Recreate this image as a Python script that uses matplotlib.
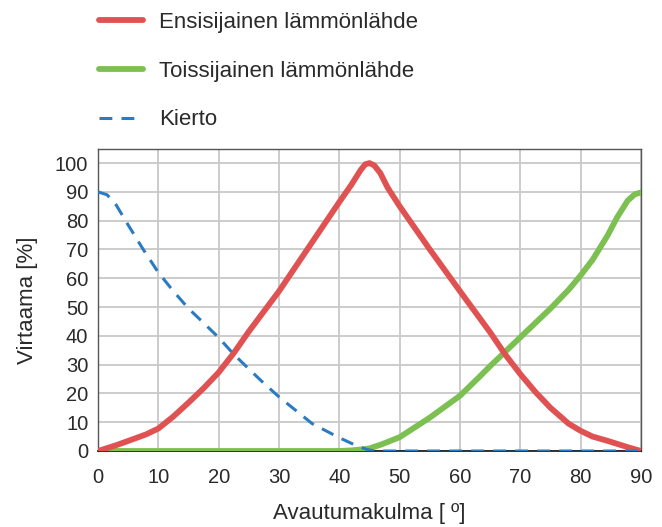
import matplotlib
matplotlib.use("Agg")
import matplotlib.pyplot as plt

# Data
ens_x = [0, 3, 5, 8, 10, 12.5, 15, 17.5, 20, 22.5, 25, 30, 35, 40, 42, 43.5, 44.3, 45, 45.8, 46.8, 48, 50, 55, 60, 65, 67.5, 70, 72.5, 75, 78, 80, 82, 84.5, 88, 90]
ens_y = [0, 2, 3.5, 5.8, 7.8, 12, 16.8, 21.8, 27.3, 34, 41.5, 55.5, 71, 86.5, 92.5, 97.5, 99.6, 100, 99.2, 96.5, 91.5, 85, 70, 55.5, 41.2, 33.5, 26.7, 20.5, 15, 9.5, 7, 5, 3.5, 1.2, 0]

toi_x = [0, 40, 42, 44, 45, 47, 50, 55, 60, 63, 65, 70, 75, 78, 80, 82, 84.5, 86, 87.8, 89, 90]
toi_y = [0, 0, 0.2, 0.6, 0.9, 2.3, 4.8, 11.6, 19.2, 25.3, 29.5, 39.5, 49.5, 56, 61, 66.5, 75, 81, 87, 89.2, 89.8]

kie_x = [0, 1.5, 3, 5, 7.5, 10, 12.5, 15, 17.5, 20, 22.5, 25, 27.5, 30, 35.5, 40, 43, 44.5, 45.8, 90]
kie_y = [90, 89, 85.5, 78.5, 70, 62, 55.5, 49.5, 44.5, 39.4, 33.6, 28.5, 23.5, 18.8, 9.5, 4.6, 1.7, 0.6, 0, 0]

labels = ["Ensisijainen lämmönlähde", "Toissijainen lämmönlähde", "Kierto"]
x_ticks = list(range(0, 91, 10))
y_ticks = list(range(0, 101, 10))

plt.rcParams['font.family'] = ['Liberation Sans', 'DejaVu Sans']

fig = plt.figure(figsize=(6.62, 5.27), dpi=100)
ax = fig.add_axes([98/662, 1-451/527, (641-98)/662, (451-149)/527])

red = '#e05252'
green = '#7cc052'
blue = '#2a7bc1'
txt = '#2a2a2a'

l1, = ax.plot(ens_x, ens_y, color=red, lw=4.2, solid_capstyle='round', solid_joinstyle='round', zorder=4, label=labels[0])
l2, = ax.plot(toi_x, toi_y, color=green, lw=4.2, solid_capstyle='round', solid_joinstyle='round', zorder=3, label=labels[1])
l3, = ax.plot(kie_x, kie_y, color=blue, lw=2.2, linestyle=(0, (4.2, 3.0)), zorder=5, label=labels[2])

ax.set_xlim(0, 90)
ax.set_ylim(0, 104.9)
ax.set_xticks(x_ticks)
ax.set_yticks(y_ticks)
ax.grid(True, color='#c8c8c8', lw=1.3)
ax.set_axisbelow(True)
ax.tick_params(length=0, labelsize=14.5, colors=txt)
ax.tick_params(axis='x', pad=12)
ax.tick_params(axis='y', pad=7)
for s in ['top', 'right', 'left']:
    ax.spines[s].set_color('#555555')
    ax.spines[s].set_linewidth(1.0)
ax.spines['bottom'].set_color('#111111')
ax.spines['bottom'].set_linewidth(1.2)

ax.set_xlabel("Avautumakulma [ º]", fontsize=16, color=txt, labelpad=12)
ax.set_ylabel("Virtaama [%]", fontsize=16, color=txt, labelpad=12)

leg = fig.legend(handles=[l1, l2, l3], loc='upper left', bbox_to_anchor=(90/662, 1-3/527),
                 frameon=False, fontsize=16, handlelength=2.0, handletextpad=0.7,
                 labelspacing=1.25, borderaxespad=0)
for t in leg.get_texts():
    t.set_color(txt)

fig.savefig("out.png", dpi=100)
